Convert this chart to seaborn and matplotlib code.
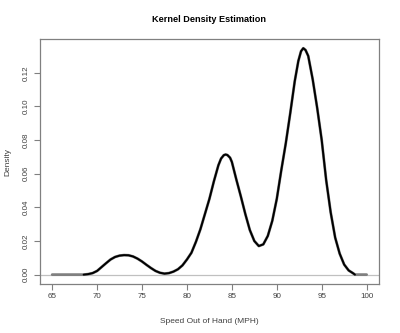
import matplotlib
matplotlib.use("Agg")
import matplotlib.pyplot as plt
import seaborn as sns
import pandas as pd

# Density curve
speed = [65.0, 68.5, 69.0, 69.5, 70.0, 70.5, 71.0, 71.5, 72.0, 72.5, 73.0, 73.5,
         74.0, 74.5, 75.0, 75.5, 76.0, 76.5, 77.0, 77.5, 78.0, 78.5, 79.0, 79.5,
         80.0, 80.5, 81.0, 81.5, 82.0, 82.5, 83.0, 83.5, 83.8, 84.1, 84.3, 84.5, 84.8, 85.0,
         85.5, 86.0, 86.5, 87.0, 87.5, 88.0, 88.5, 89.0, 89.5, 90.0, 90.5, 91.0,
         91.5, 92.0, 92.4, 92.7, 92.95, 93.2, 93.5, 94.0, 94.5, 95.0, 95.5, 96.0, 96.5, 97.0,
         97.5, 98.0, 98.5, 98.7, 100.0]
density = [0.0, 0.0, 0.0003, 0.0009, 0.0022, 0.0045, 0.0068, 0.0090, 0.0105, 0.0113, 0.0116, 0.0115,
           0.0108, 0.0095, 0.0078, 0.0058, 0.0039, 0.0022, 0.0011, 0.0006, 0.0009, 0.0018, 0.0032, 0.0055,
           0.0090, 0.0130, 0.0195, 0.0270, 0.0360, 0.0450, 0.0555, 0.0650, 0.0690, 0.0710, 0.0714, 0.0711, 0.0695, 0.0670,
           0.0565, 0.0465, 0.0360, 0.0265, 0.0200, 0.0170, 0.0180, 0.0230, 0.0320, 0.0450, 0.0620, 0.0780,
           0.0960, 0.1150, 0.1270, 0.1328, 0.1346, 0.1335, 0.1300, 0.1160, 0.0990, 0.0800, 0.0561, 0.0370, 0.0220, 0.0125,
           0.0060, 0.0025, 0.0008, 0.0, 0.0]

x_ticks = [65, 70, 75, 80, 85, 90, 95, 100]
y_ticks = [0.00, 0.02, 0.04, 0.06, 0.08, 0.10, 0.12]
y_tick_labels = ["0.00", "0.02", "0.04", "0.06", "0.08", "0.10", "0.12"]

title = "Kernel Density Estimation"
x_label = "Speed Out of Hand (MPH)"
y_label = "Density"

sns.set_style("white")
plt.rcParams["font.family"] = ["Liberation Sans", "DejaVu Sans"]

df = pd.DataFrame({"speed": speed, "density": density})
inner = df[(df["speed"] >= 68.5) & (df["speed"] <= 98.7)]

fig = plt.figure(figsize=(4.0, 3.33), dpi=100)
ax = fig.add_axes([0.099, 0.148, 0.849, 0.734])

ax.axhline(0, color="#c0c0c0", lw=0.9, zorder=1)
sns.lineplot(data=df, x="speed", y="density", ax=ax, color="#808080", lw=2.0,
             sort=False, zorder=2, estimator=None)
sns.lineplot(data=inner, x="speed", y="density", ax=ax, color="black", lw=1.4,
             sort=False, zorder=3, estimator=None, solid_joinstyle="round",
             solid_capstyle="round")

ax.set_xlim(63.6, 101.4)
ax.set_ylim(-0.0054, 0.1399)
ax.set_xticks(x_ticks)
ax.set_xticklabels([str(t) for t in x_ticks])
ax.set_yticks(y_ticks)
ax.set_yticklabels(y_tick_labels, rotation=90, va="center")

for s in ax.spines.values():
    s.set_color("#808080")
    s.set_linewidth(0.9)

ax.tick_params(axis="both", which="both", direction="out", length=4, width=0.8,
               color="#808080", labelcolor="#404040", labelsize=5.8, pad=3,
               bottom=True, left=True)

ax.set_xlabel(x_label, fontsize=6, color="#404040", labelpad=13)
ax.set_ylabel(y_label, fontsize=6, color="#404040", labelpad=8)
fig.text(0.523, 0.94, title, ha="center", va="center", fontsize=6.6,
         fontweight="bold", color="black")

fig.savefig("out.png", dpi=100)
